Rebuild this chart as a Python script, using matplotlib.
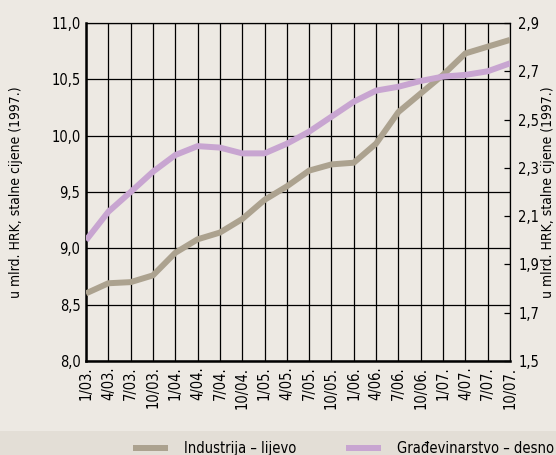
from matplotlib import pyplot as plt

quarters = ["1/03.", "4/03.", "7/03.", "10/03.", "1/04.", "4/04.", "7/04.", "10/04.",
            "1/05.", "4/05.", "7/05.", "10/05.", "1/06.", "4/06.", "7/06.", "10/06.",
            "1/07.", "4/07.", "7/07.", "10/07."]
industrija = [8.60, 8.69, 8.70, 8.76, 8.96, 9.08, 9.14, 9.26, 9.43, 9.55,
              9.69, 9.745, 9.76, 9.93, 10.21, 10.375, 10.54, 10.73, 10.79, 10.85]
gradevinarstvo = [2.00, 2.118, 2.20, 2.284, 2.353, 2.39, 2.384, 2.36, 2.36, 2.40,
                  2.45, 2.512, 2.574, 2.62, 2.636, 2.66, 2.678, 2.685, 2.70, 2.733]
left_ticks = [8.0, 8.5, 9.0, 9.5, 10.0, 10.5, 11.0]
left_labels = ["8,0", "8,5", "9,0", "9,5", "10,0", "10,5", "11,0"]
right_ticks = [1.5, 1.7, 1.9, 2.1, 2.3, 2.5, 2.7, 2.9]
right_labels = ["1,5", "1,7", "1,9", "2,1", "2,3", "2,5", "2,7", "2,9"]
ylab = "u mlrd. HRK, stalne cijene (1997.)"

bg = "#EDE9E3"
plt.rcParams['font.family'] = ['Liberation Sans Narrow', 'DejaVu Sans']
plt.rcParams['font.stretch'] = 'condensed'
plt.rcParams['font.size'] = 10

fig = plt.figure(figsize=(5.56, 4.55), dpi=100, facecolor=bg)
# traka za legendu
fig.patches.append(plt.Rectangle((0, 0), 1, 24 / 455, transform=fig.transFigure,
                                 facecolor="#E3DED6", edgecolor="none", zorder=0))

ax = fig.add_axes([86 / 556, 94 / 455, 424 / 556, 338 / 455])
ax.set_facecolor(bg)
x = list(range(len(quarters)))

l1, = ax.plot(x, industrija, color="#ACA28F", lw=4.3, solid_capstyle="butt", zorder=3)
ax.set_xlim(0, len(quarters) - 1)
ax.set_ylim(8.0, 11.0)
ax.set_yticks(left_ticks)
ax.set_yticklabels(left_labels)
ax.set_xticks(x)
ax.set_xticklabels(quarters, rotation=90, va="top", ha="center")
ax.tick_params(axis="both", length=0, pad=4, labelsize=10.5)
ax.grid(True, color="black", lw=0.9)
ax.set_axisbelow(True)
for s in ["left", "bottom"]:
    ax.spines[s].set_linewidth(1.8)
for s in ["top", "right"]:
    ax.spines[s].set_linewidth(0.9)
ax.set_ylabel(ylab, fontsize=10)
ax.yaxis.set_label_coords(-0.149, 0.5)

ax2 = ax.twinx()
l2, = ax2.plot(x, gradevinarstvo, color="#C8A5D1", lw=4.3, solid_capstyle="butt", zorder=3)
ax2.set_ylim(1.5, 2.9)
ax2.set_yticks(right_ticks)
ax2.set_yticklabels(right_labels)
ax2.tick_params(axis="y", direction="in", length=4, width=0.9, pad=6, labelsize=10.5)
for s in ax2.spines.values():
    s.set_visible(False)
ax2.set_ylabel(ylab, fontsize=10)
ax2.yaxis.set_label_coords(1.073, 0.5)

fig.legend([l1, l2], ["Industrija \u2013 lijevo", "Gra\u0111evinarstvo \u2013 desno"],
           loc="lower right", bbox_to_anchor=(1.021, -0.032), ncol=2, frameon=False,
           handlelength=2.4, handletextpad=1.1, columnspacing=3.4, fontsize=10.5)

fig.savefig("out.png", dpi=100, facecolor=bg)
